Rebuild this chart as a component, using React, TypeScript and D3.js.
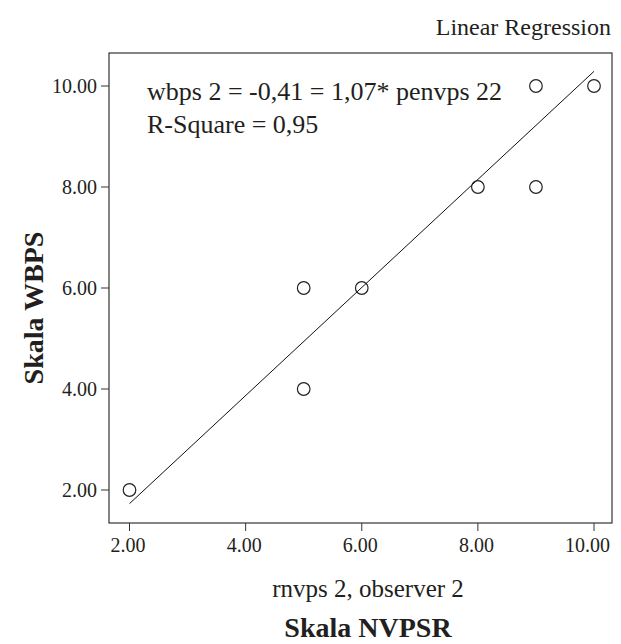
import * as d3 from "d3";
import React from "react";

// observed values
const xValues = [2, 5, 5, 6, 8, 9, 9, 10];
const yValues = [2, 4, 6, 6, 8, 8, 10, 10];
const tickValues = [2, 4, 6, 8, 10];

// fit as printed on the chart
const intercept = -0.41;
const slope = 1.07;
const equationLines = ["wbps 2 = -0,41 = 1,07* penvps 22", "R-Square = 0,95"];

const width = 621;
const height = 644;
const frame = { left: 109, right: 612, top: 53, bottom: 523 };
const font = "'Liberation Serif', 'Times New Roman', serif";
const ink = "#231f20";

export default function App() {
  const x = d3.scaleLinear().domain([2, 10]).range([129.5, 594]);
  const y = d3.scaleLinear().domain([2, 10]).range([490, 86]);

  const lineX = d3.extent(xValues) as [number, number];
  const fitLine = d3
    .line<number>()
    .x((d) => x(d))
    .y((d) => y(intercept + slope * d));

  const points = xValues.map((v, i) => ({ x: v, y: yValues[i] }));
  const titleX = 368;

  return (
    <svg
      width={width}
      height={height}
      style={{ position: "absolute", left: 0, top: 0, background: "#fff" }}
      fontFamily={font}
      fill={ink}
    >
      <text x={611} y={35} textAnchor="end" fontSize={24}>
        Linear Regression
      </text>

      <rect
        x={frame.left}
        y={frame.top}
        width={frame.right - frame.left}
        height={frame.bottom - frame.top}
        fill="none"
        stroke="#333"
        strokeWidth={1.2}
      />

      {tickValues.map((t) => (
        <g key={"y" + t}>
          <line x1={frame.left - 8} x2={frame.left} y1={y(t)} y2={y(t)} stroke="#333" />
          <text x={frame.left - 12} y={y(t) + 7} textAnchor="end" fontSize={20}>
            {t.toFixed(2)}
          </text>
        </g>
      ))}
      {tickValues.map((t) => (
        <g key={"x" + t}>
          <line x1={x(t)} x2={x(t)} y1={frame.bottom} y2={frame.bottom + 8} stroke="#333" />
          <text x={x(t) + 16} y={552} textAnchor="end" fontSize={20}>
            {t.toFixed(2)}
          </text>
        </g>
      ))}

      {equationLines.map((s, i) => (
        <text key={s} x={147} y={100 + i * 33} fontSize={26}>
          {s}
        </text>
      ))}

      <path d={fitLine(lineX) ?? ""} fill="none" stroke="#111" strokeWidth={1} />

      {points.map((p, i) => (
        <circle key={i} cx={x(p.x)} cy={y(p.y)} r={6.3} fill="none" stroke="#222" strokeWidth={1.2} />
      ))}

      <text x={titleX} y={597} textAnchor="middle" fontSize={25}>
        rnvps 2, observer 2
      </text>
      <text x={titleX} y={637} textAnchor="middle" fontSize={28} fontWeight="bold">
        Skala NVPSR
      </text>
      <text
        transform={`translate(43, 308) rotate(-90)`}
        textAnchor="middle"
        fontSize={28}
        fontWeight="bold"
      >
        Skala WBPS
      </text>
    </svg>
  );
}
